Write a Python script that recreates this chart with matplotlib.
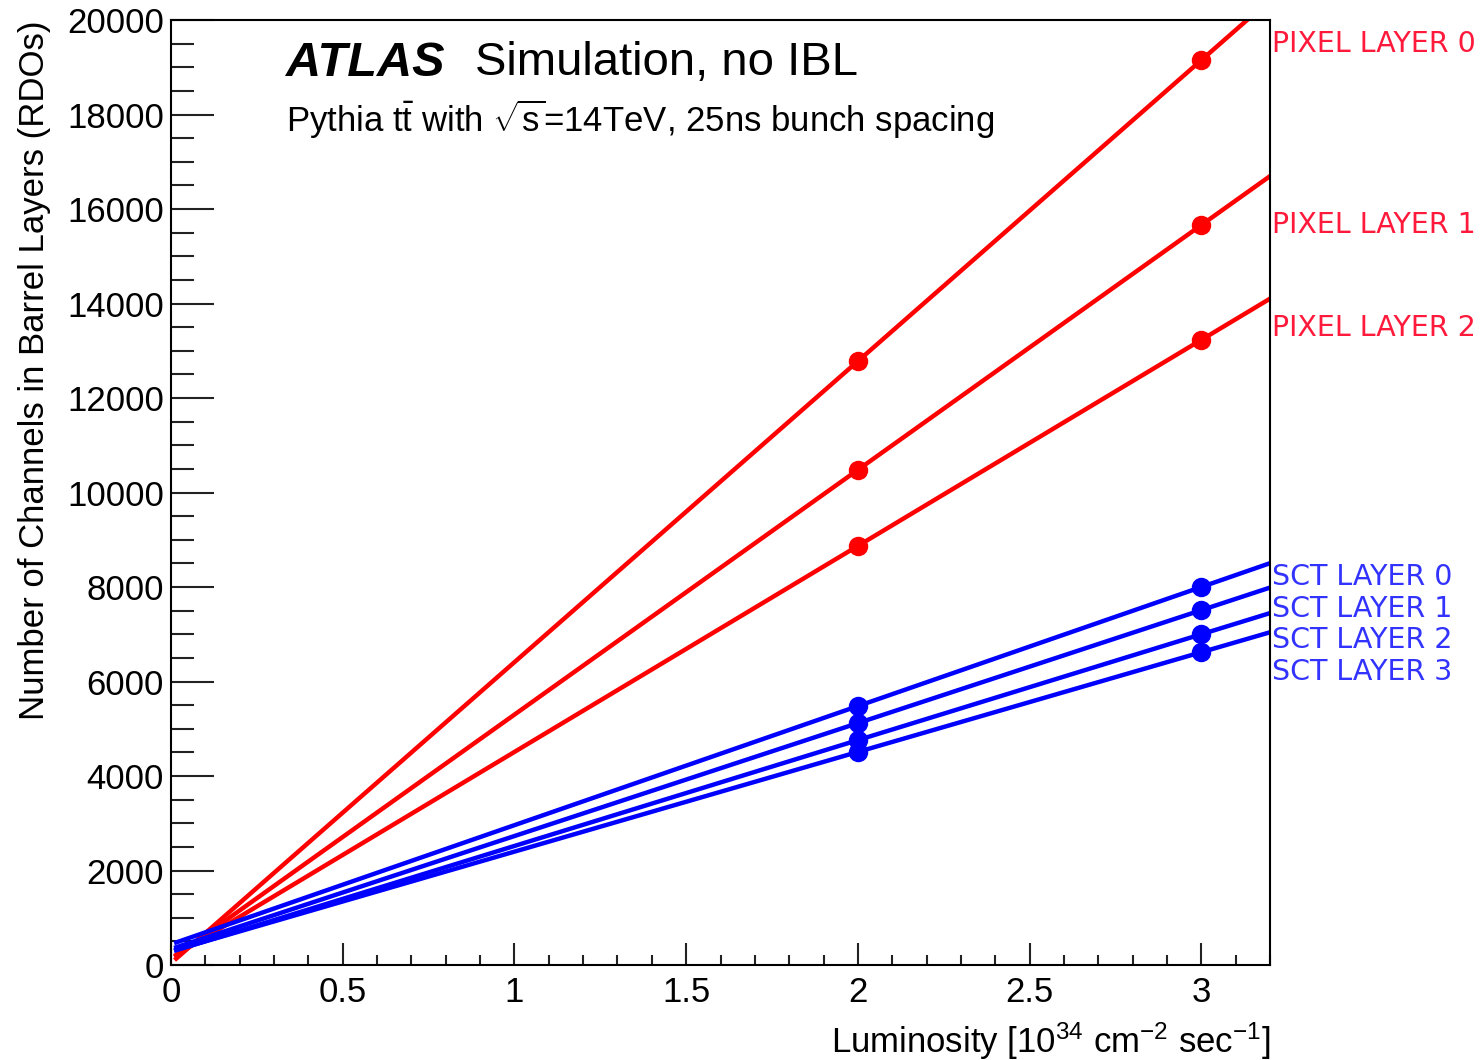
import numpy as np
import matplotlib
matplotlib.use("Agg")
import matplotlib.pyplot as plt
from matplotlib.ticker import MultipleLocator

plt.rcParams['font.family'] = ['Liberation Sans', 'DejaVu Sans']
plt.rcParams['mathtext.fontset'] = 'custom'
plt.rcParams['mathtext.rm'] = 'Liberation Sans'
plt.rcParams['mathtext.it'] = 'Liberation Sans:italic'

# data
lumi = [2, 3]
layers = ['PIXEL LAYER 0', 'PIXEL LAYER 1', 'PIXEL LAYER 2',
          'SCT LAYER 0', 'SCT LAYER 1', 'SCT LAYER 2', 'SCT LAYER 3']
pix0 = [12780, 19150]
pix1 = [10480, 15660]
pix2 = [8870, 13230]
sct0 = [5480, 8000]
sct1 = [5120, 7510]
sct2 = [4760, 7000]
sct3 = [4510, 6620]
series = [pix0, pix1, pix2, sct0, sct1, sct2, sct3]
colors = ['#ff0000'] * 3 + ['#0000ff'] * 4
label_colors = ['#ff1a3c'] * 3 + ['#3333ff'] * 4
label_y = [19500, 15660, 13480, 8210, 7530, 6880, 6200]  # text positions

fig = plt.figure(figsize=(14.81, 10.60), dpi=100)
ax = fig.add_axes([0.1155, 0.0896, 0.742, 0.8915])

xfit = np.linspace(0.015, 3.2, 50)
for vals, c in zip(series, colors):
    k, b = np.polyfit(lumi, vals, 1)
    ax.plot(xfit, k * xfit + b, color=c, lw=3.2)
    ax.plot(lumi, vals, 'o', color=c, ms=13)

for name, y, c in zip(layers, label_y, label_colors):
    ax.text(3.205, y, name, color=c, fontsize=20.5, va='center', ha='left',
            family=['DejaVu Sans'], clip_on=False)

ax.set_xlim(0, 3.2)
ax.set_ylim(0, 20000)
ax.xaxis.set_major_locator(MultipleLocator(0.5))
ax.xaxis.set_minor_locator(MultipleLocator(0.1))
ax.yaxis.set_major_locator(MultipleLocator(2000))
ax.yaxis.set_minor_locator(MultipleLocator(500))
ax.tick_params(which='both', direction='in', top=False, right=False,
               width=1.5, labelsize=25, color='#222222')
ax.tick_params(axis='y', which='major', length=31, pad=5)
ax.tick_params(axis='y', which='minor', length=16.5)
ax.tick_params(axis='x', which='major', length=16, pad=8)
ax.tick_params(axis='x', which='minor', length=7.5)
ax.set_xticks([0, 0.5, 1, 1.5, 2, 2.5, 3])
ax.set_xticklabels(['0', '0.5', '1', '1.5', '2', '2.5', '3'])
for s in ax.spines.values():
    s.set_linewidth(1.5)

ax.set_ylabel('Number of Channels in Barrel Layers (RDOs)', fontsize=25,
              loc='top', labelpad=12)
ax.set_xlabel(r'Luminosity [10$^{34}$ cm$^{-2}$ sec$^{-1}$]', fontsize=25,
              loc='right', labelpad=8)

ax.text(0.105, 0.978, 'ATLAS', transform=ax.transAxes, fontsize=35,
        fontweight='bold', style='italic', va='top')
ax.text(0.277, 0.978, 'Simulation, no IBL', transform=ax.transAxes, fontsize=34,
        va='top')
ax.text(0.105, 0.918, r'Pythia $\mathrm{t\bar{t}}$ with $\sqrt{\mathrm{s}}$=14TeV, 25ns bunch spacing',
        transform=ax.transAxes, fontsize=25, va='top')

fig.savefig('out.png', dpi=100)
